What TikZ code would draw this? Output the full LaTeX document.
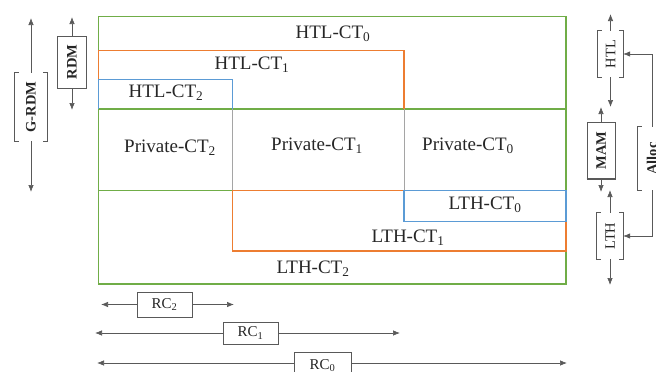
\documentclass[tikz,border=0pt]{standalone}
\usepackage{fontspec}
\usepackage{graphicx}
\setmainfont{Liberation Serif}
\usetikzlibrary{arrows.meta}
\definecolor{cgreen}{HTML}{70AD47}
\definecolor{corange}{HTML}{ED7D31}
\definecolor{cblue}{HTML}{5B9BD5}
\definecolor{cgray}{HTML}{A5A5A5}
\definecolor{ctext}{HTML}{262626}
\definecolor{cline}{HTML}{595959}
\newcommand\mybracket[1]{%
  \draw[boxline] ([xshift=4pt]#1.north west) -| (#1.south west) -- ++(4,0);
  \draw[boxline] ([xshift=-4pt]#1.north east) -| (#1.south east) -- ++(-4,0);}
\begin{document}
\begin{tikzpicture}[x=1pt,y=-1pt,
  every node/.style={text=ctext, inner sep=0pt},
  big/.style={font=\fontsize{19}{20}\selectfont},
  lab/.style={font=\fontsize{14.5}{16}\selectfont\bfseries},
  labr/.style={font=\fontsize{14.5}{16}\selectfont},
  rcf/.style={font=\fontsize{15}{16}\selectfont},
  fullbox/.style={draw=cline, line width=0.9pt},
  boxline/.style={draw=cline, line width=0.9pt},
  arr/.style={draw=cline, line width=0.7pt, -{Latex[length=7pt,width=5.5pt]}},
  area/.style={line width=1.1pt}]
\useasboundingbox (0,0) rectangle (656,372);

% main frame
\draw[cgreen, area] (98.5,16.5) rectangle (566,284);
\draw[cgreen, area] (98.5,109) -- (566,109);
\draw[cgreen, area] (98.5,190.7) -- (566,190.7);
\draw[cgray, line width=0.9pt] (232.7,109) -- (232.7,190.7) (404,109) -- (404,190.7);
\draw[corange, area] (98.5,109) |- (404,50.7) -- (404,109);
\draw[cblue, area] (98.5,109) |- (232.7,79.7) -- (232.7,109);
\draw[corange, area] (232.7,190.7) rectangle (566,251);
\draw[cblue, area] (404,190.7) rectangle (566,221.7);

% texts
\node[big] (h0) at (333,34) {HTL-CT\textsubscript{0}};
\node[big] (h1) at (252,65) {HTL-CT\textsubscript{1}};
\node[big] (h2) at (166,93) {HTL-CT\textsubscript{2}};
\node[big] (p2) at (170,148) {Private-CT\textsubscript{2}};
\node[big] (p1) at (317,146) {Private-CT\textsubscript{1}};
\node[big] (p0) at (468,146) {Private-CT\textsubscript{0}};
\node[big] (l0) at (485,205) {LTH-CT\textsubscript{0}};
\node[big] (l1) at (408,238) {LTH-CT\textsubscript{1}};
\node[big] (l2) at (313,269) {LTH-CT\textsubscript{2}};

% left side
\node[lab, minimum width=32pt, minimum height=68pt] (grdm) at (31,107) {\rotatebox{90}{G-RDM}};
\mybracket{grdm}
\coordinate (grdmT) at (31,18);
\coordinate (grdmB) at (31,192);
\draw[arr] (grdm.north) -- (grdmT);
\draw[arr] (grdm.south) -- (grdmB);

\node[lab, fullbox, minimum width=29pt, minimum height=52pt] (rdm) at (72,62) {\rotatebox{90}{RDM}};
\coordinate (rdmT) at (72,17);
\coordinate (rdmB) at (72,110);
\draw[arr] (rdm.north) -- (rdmT);
\draw[arr] (rdm.south) -- (rdmB);

% right side
\node[labr, minimum width=25pt, minimum height=46pt] (htl) at (610.5,54) {\rotatebox{90}{HTL}};
\mybracket{htl}
\coordinate (htlT) at (610.5,14);
\coordinate (htlB) at (610.5,107);
\draw[arr] (htl.north) -- (htlT);
\draw[arr] (htl.south) -- (htlB);

\node[lab, fullbox, minimum width=28pt, minimum height=57pt] (mam) at (601,150.5) {\rotatebox{90}{MAM}};
\draw[cline, line width=2pt] (mam.south west) -- (mam.south east);
\coordinate (mamT) at (601,107);
\coordinate (mamB) at (601,192);
\draw[arr] (mam.north) -- (mamT);
\draw[arr] (mam.south) -- (mamB);

\node[labr, minimum width=26pt, minimum height=46pt] (lth) at (610,236) {\rotatebox{90}{LTH}};
\mybracket{lth}
\coordinate (lthT) at (610,190);
\coordinate (lthB) at (610,285);
\draw[arr] (lth.north) -- (lthT);
\draw[arr] (lth.south) -- (lthB);

\node[lab, minimum width=28pt, minimum height=63pt] (alloc) at (652,158.5) {\rotatebox{90}{Alloc}};
\mybracket{alloc}
\draw[arr] (alloc.north) |- (htl.east);
\draw[arr] (alloc.south) |- (lth.east);

% bottom RC
\node[rcf, fullbox, minimum width=55pt, minimum height=25pt] (rc2) at (164.5,304.5) {RC\textsubscript{2}};
\coordinate (rc2L) at (101,304.5);
\coordinate (rc2R) at (234,304.5);
\draw[arr] (rc2.west) -- (rc2L);
\draw[arr] (rc2.east) -- (rc2R);

\node[rcf, fullbox, minimum width=55pt, minimum height=22pt] (rc1) at (250.5,333) {RC\textsubscript{1}};
\coordinate (rc1L) at (95,333);
\coordinate (rc1R) at (400,333);
\draw[arr] (rc1.west) -- (rc1L);
\draw[arr] (rc1.east) -- (rc1R);

\node[rcf, fullbox, minimum width=57pt, minimum height=28pt] (rc0) at (322.5,366) {RC\textsubscript{0}};
\coordinate (rc0L) at (97,363);
\coordinate (rc0R) at (567,363);
\draw[arr] ([yshift=3pt]rc0.west) -- (rc0L);
\draw[arr] ([yshift=3pt]rc0.east) -- (rc0R);
\end{tikzpicture}
\end{document}
